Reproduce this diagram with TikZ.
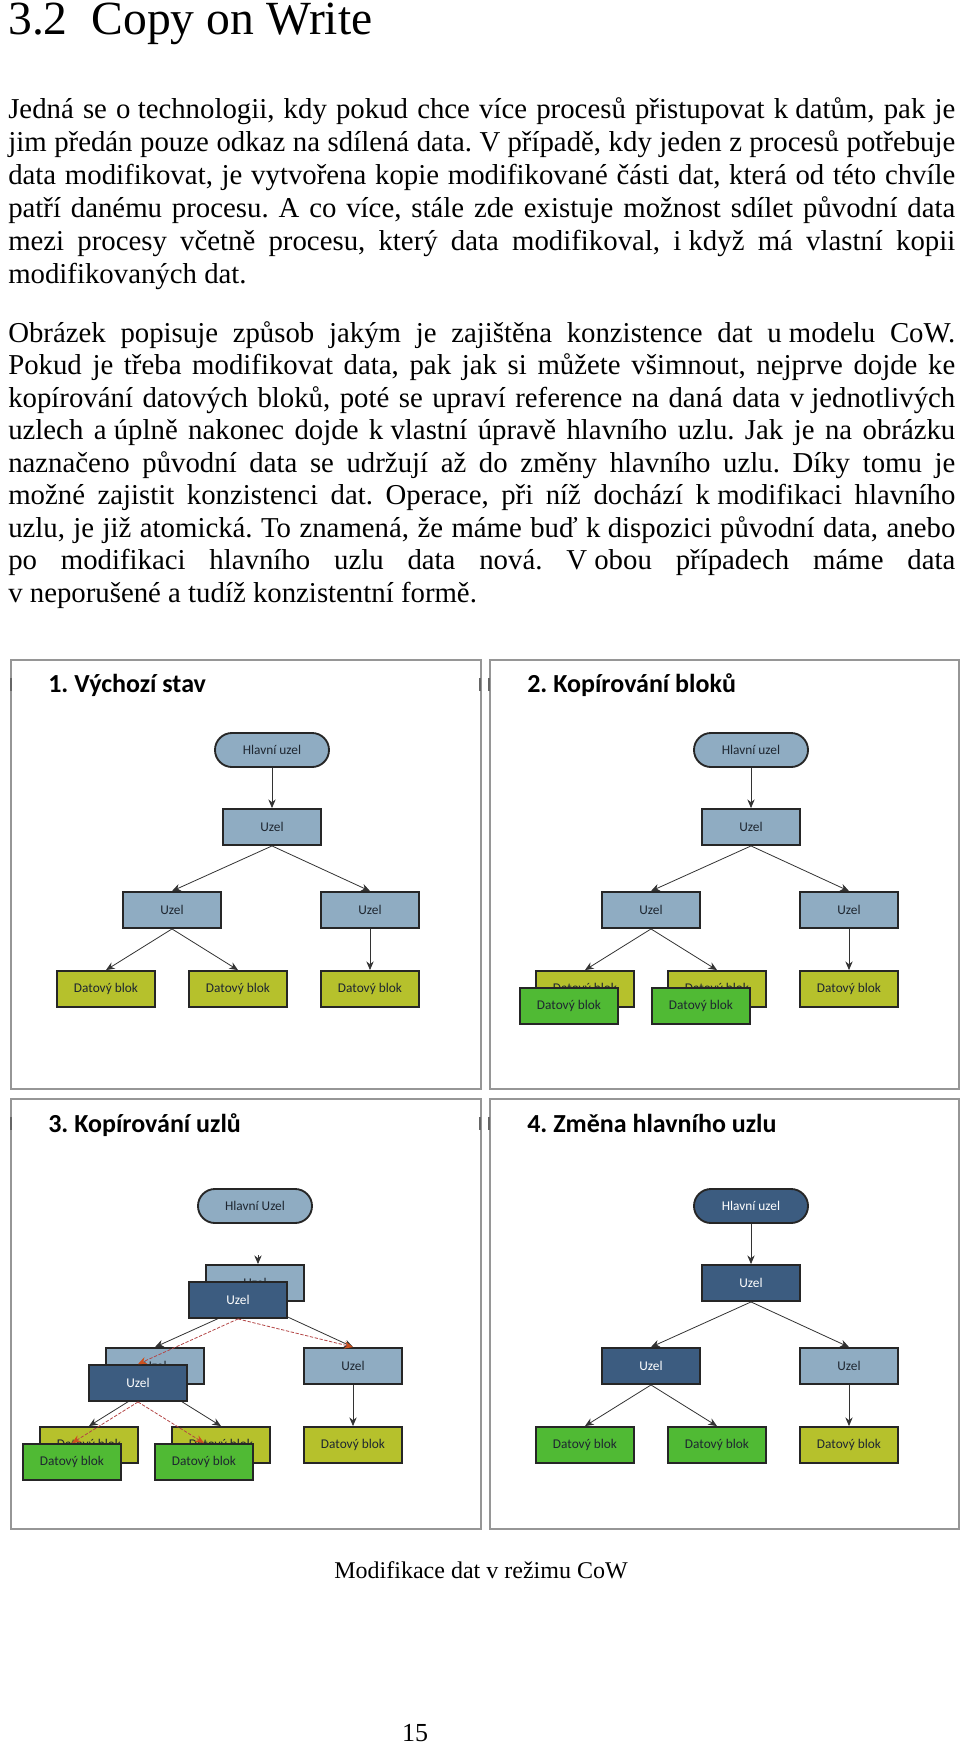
\documentclass[tikz,border=0pt]{standalone}
\usepackage{fontspec}
\setmainfont{Liberation Serif}
\newfontfamily\calfont{Carlito}
\usetikzlibrary{arrows.meta}
\frenchspacing

\definecolor{uzlight}{RGB}{143,172,194}
\definecolor{uzdark}{RGB}{60,92,128}
\definecolor{olivebox}{RGB}{182,193,44}
\definecolor{newgreen}{RGB}{80,186,52}
\definecolor{framegray}{RGB}{150,150,150}
\definecolor{nodetext}{RGB}{30,38,48}
\definecolor{redline}{RGB}{180,70,70}
\definecolor{redtip}{RGB}{205,80,30}

\newcommand\ns{\hspace{0.25em}}

\tikzset{
  box/.style={rectangle, draw=black!85, line width=1.4pt, minimum width=73.5pt, minimum height=27pt, inner sep=0pt,
    font=\calfont\fontsize{10pt}{11pt}\selectfont, text=nodetext},
  uzl/.style={box, fill=uzlight},
  uzd/.style={box, fill=uzdark, text=white},
  dbo/.style={box, fill=olivebox},
  dbg/.style={box, fill=newgreen},
  hl/.style={uzl, minimum width=85.5pt, minimum height=25.5pt, rounded corners=12.7pt},
  hd/.style={hl, fill=uzdark, text=white},
  arr/.style={-{Stealth[length=6.5pt,width=5.5pt]}, line width=0.6pt, draw=black!80},
  rarr/.style={-{Stealth[length=6.5pt,width=5.5pt,color=redtip]}, line width=0.6pt, draw=redline, dash pattern=on 2.5pt off 1.2pt},
  frame/.style={draw=framegray, line width=1.2pt},
  tick/.style={draw=black!60, line width=1.5pt},
  ptitle/.style={anchor=base west, inner sep=0pt, font=\calfont\bfseries\fontsize{19.5pt}{22pt}\selectfont},
  body/.style={anchor=base west, inner sep=0pt, font=\fontsize{21.6pt}{24pt}\selectfont},
}

\begin{document}
\begin{tikzpicture}[x=0.75pt, y=-0.75pt]
\useasboundingbox (0,0) rectangle (960,1745);
\fill[white] (0,0) rectangle (960,1745);

% ---------- heading and text ----------
\node[anchor=base west, inner sep=0pt, font=\fontsize{35.7pt}{38pt}\selectfont] (title) at (8,35) {3.2\hspace{0.5em}Copy on Write};

\node[body] (p1a) at (8,118) {\makebox[710.25pt][s]{Jedná se o\ns technologii, kdy pokud chce více procesů přistupovat k\ns datům, pak je}};
\node[body] (p1b) at (8,151) {\makebox[710.25pt][s]{jim předán pouze odkaz na sdílená data. V\ns případě, kdy jeden z\ns procesů potřebuje}};
\node[body] (p1c) at (8,184) {\makebox[710.25pt][s]{data modifikovat, je vytvořena kopie modifikované části dat, která od této chvíle}};
\node[body] (p1d) at (8,217) {\makebox[710.25pt][s]{patří danému procesu. A co více, stále zde existuje možnost sdílet původní data}};
\node[body] (p1e) at (8,250) {\makebox[710.25pt][s]{mezi procesy včetně procesu, který data modifikoval, i\ns když má vlastní kopii}};
\node[body] (p1f) at (8,283) {modifikovaných dat.};

\node[body] (p2a) at (8,342) {\makebox[710.25pt][s]{Obrázek popisuje způsob jakým je zajištěna konzistence dat u\ns modelu CoW.}};
\node[body] (p2b) at (8,374.5) {\makebox[710.25pt][s]{Pokud je třeba modifikovat data, pak jak si můžete všimnout, nejprve dojde ke}};
\node[body] (p2c) at (8,407) {\makebox[710.25pt][s]{kopírování datových bloků, poté se upraví reference na daná data v\ns jednotlivých}};
\node[body] (p2d) at (8,439.5) {\makebox[710.25pt][s]{uzlech a\ns úplně nakonec dojde k\ns vlastní úpravě hlavního uzlu. Jak je na obrázku}};
\node[body] (p2e) at (8,472) {\makebox[710.25pt][s]{naznačeno původní data se udržují až do změny hlavního uzlu. Díky tomu je}};
\node[body] (p2f) at (8,504.5) {\makebox[710.25pt][s]{možné zajistit konzistenci dat. Operace, při níž dochází k\ns modifikaci hlavního}};
\node[body] (p2g) at (8,537) {\makebox[710.25pt][s]{uzlu, je již atomická. To znamená, že máme buď k\ns dispozici původní data, anebo}};
\node[body] (p2h) at (8,569.5) {\makebox[710.25pt][s]{po modifikaci hlavního uzlu data nová. V\ns obou případech máme data}};
\node[body] (p2i) at (8,602) {v\ns neporušené a tudíž konzistentní formě.};

% ---------- panel frames ----------
\draw[frame] (11,660) rectangle (481,1089);
\draw[frame] (490,660) rectangle (959,1089);
\draw[frame] (11,1099) rectangle (481,1529);
\draw[frame] (490,1099) rectangle (959,1529);
\draw[tick] (10.5,678) -- (10.5,691);
\draw[tick] (480,678) -- (480,691);
\draw[tick] (489,678) -- (489,691);
\draw[tick] (10.5,1117) -- (10.5,1130);
\draw[tick] (480,1117) -- (480,1130);
\draw[tick] (489,1117) -- (489,1130);

\node[ptitle] (t1) at (48,692) {1. Výchozí stav};
\node[ptitle] (t2) at (527,692) {2. Kopírování bloků};
\node[ptitle] (t3) at (48,1132) {3. Kopírování uzlů};
\node[ptitle] (t4) at (527,1132) {4. Změna hlavního uzlu};

% ---------- panel 1 ----------
\node[hl] (h1) at (272,750) {Hlavní uzel};
\node[uzl] (u1) at (272,827) {Uzel};
\node[uzl] (ul1) at (172,910) {Uzel};
\node[uzl] (ur1) at (370,910) {Uzel};
\node[dbo] (da1) at (106,989) {Datový blok};
\node[dbo] (db1) at (238,989) {Datový blok};
\node[dbo] (dc1) at (370,989) {Datový blok};
\draw[arr] (h1) -- (u1);
\draw[arr] (u1.south) -- (ul1.north);
\draw[arr] (u1.south) -- (ur1.north);
\draw[arr] (ul1.south) -- (da1.north);
\draw[arr] (ul1.south) -- (db1.north);
\draw[arr] (ur1) -- (dc1);

% ---------- panel 2 ----------
\node[hl] (h2) at (751,750) {Hlavní uzel};
\node[uzl] (u2) at (751,827) {Uzel};
\node[uzl] (ul2) at (651,910) {Uzel};
\node[uzl] (ur2) at (849,910) {Uzel};
\node[dbo] (da2o) at (585,989) {Datový blok};
\node[dbo] (db2o) at (717,989) {Datový blok};
\node[dbo] (dc2) at (849,989) {Datový blok};
\node[dbg] (da2n) at (569,1006) {Datový blok};
\node[dbg] (db2n) at (701,1006) {Datový blok};
\draw[arr] (h2) -- (u2);
\draw[arr] (u2.south) -- (ul2.north);
\draw[arr] (u2.south) -- (ur2.north);
\draw[arr] (ul2.south) -- (da2o.north);
\draw[arr] (ul2.south) -- (db2o.north);
\draw[arr] (ur2) -- (dc2);

% ---------- panel 3 ----------
\node[hl] (h3) at (255,1206) {Hlavní Uzel};
\node[uzl] (ou3) at (255,1283) {Uzel};
\node[uzl] (oul3) at (155,1366) {Uzel};
\node[uzl] (ur3) at (353,1366) {Uzel};
\node[dbo] (oda3) at (89,1445) {Datový blok};
\node[dbo] (odb3) at (221,1445) {Datový blok};
\node[dbo] (dc3) at (353,1445) {Datový blok};
\coordinate (s3) at (258,1255);
\draw[arr] (s3) -- (s3 |- ou3.north);
\draw[arr] (ou3.south) -- (oul3.north);
\draw[arr] (ou3.south) -- (ur3.north);
\draw[arr] (oul3.south) -- (oda3.north);
\draw[arr] (oul3.south) -- (odb3.north);
\draw[arr] (ur3) -- (dc3);
\node[uzd] (nu3) at (238,1300) {Uzel};
\node[uzd] (nul3) at (138,1383) {Uzel};
\node[dbg] (nda3) at (72,1462) {Datový blok};
\node[dbg] (ndb3) at (204,1462) {Datový blok};
\draw[rarr] (nu3.south) -- (nul3.north);
\draw[rarr] (nu3.south) -- (ur3.north);
\draw[rarr] (nul3.south) -- (nda3.north);
\draw[rarr] (nul3.south) -- (ndb3.north);

% ---------- panel 4 ----------
\node[hd] (h4) at (751,1206) {Hlavní uzel};
\node[uzd] (u4) at (751,1283) {Uzel};
\node[uzd] (ul4) at (651,1366) {Uzel};
\node[uzl] (ur4) at (849,1366) {Uzel};
\node[dbg] (da4) at (585,1445) {Datový blok};
\node[dbg] (db4) at (717,1445) {Datový blok};
\node[dbo] (dc4) at (849,1445) {Datový blok};
\draw[arr] (h4) -- (u4);
\draw[arr] (u4.south) -- (ul4.north);
\draw[arr] (u4.south) -- (ur4.north);
\draw[arr] (ul4.south) -- (da4.north);
\draw[arr] (ul4.south) -- (db4.north);
\draw[arr] (ur4) -- (dc4);

% ---------- caption ----------
\node[anchor=base, inner sep=0pt, font=\fontsize{18pt}{20pt}\selectfont] (cap) at (481,1578) {Modifikace dat v režimu CoW};
\node[anchor=base, inner sep=0pt, font=\fontsize{19.5pt}{20pt}\selectfont] (pg) at (415,1741) {15};
\end{tikzpicture}
\end{document}
